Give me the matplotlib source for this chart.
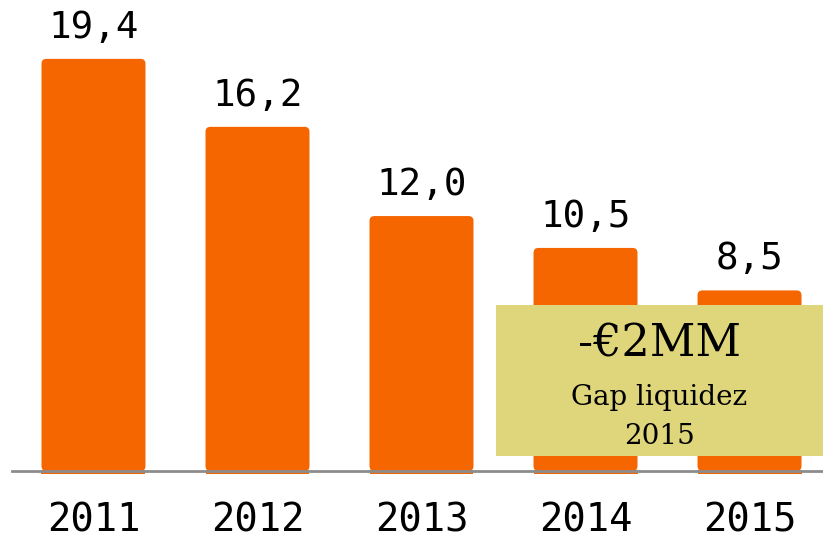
import matplotlib
matplotlib.use("Agg")
import matplotlib.pyplot as plt
from matplotlib.patches import Rectangle, FancyBboxPatch

# data
years = ["2011", "2012", "2013", "2014", "2015"]
values = [19.4, 16.2, 12.0, 10.5, 8.5]
value_labels = ["19,4", "16,2", "12,0", "10,5", "8,5"]
box_title = "-€2MM"
box_lines = ["Gap liquidez", "2015"]

orange = "#f56600"
khaki = "#dfd57a"
mono = "DejaVu Sans Mono"
serif = "DejaVu Serif"

fig = plt.figure(figsize=(8.23, 5.41), dpi=100)
ax = fig.add_axes([0, 0, 1, 1])
ax.set_xlim(-0.570, 4.448)
ax.set_ylim(-3.296, 22.17)
ax.axis("off")

w = 0.634
x = list(range(len(years)))
# little square stub under the baseline
ax.bar(x, 0.17, bottom=-0.14, width=w, color=orange, zorder=2)
# bars with rounded top corners
asp = 164 / 21.24
for i, v in enumerate(values):
    ax.add_patch(FancyBboxPatch((i - w / 2, 0), w, v,
                                boxstyle="round,pad=0,rounding_size=0.03",
                                mutation_aspect=asp, facecolor=orange,
                                edgecolor="none", zorder=2))

# baseline
ax.plot([-0.497, 4.448], [0, 0], color="#8c8c8c", lw=2, zorder=3)

for i, v in enumerate(values):
    ax.text(i, v + 1.46, value_labels[i], ha="center", va="center",
            fontsize=27, family=mono)
    ax.text(i, -2.33, years[i], ha="center", va="center",
            fontsize=28, family=mono)

# liquidity gap box
ax.add_patch(Rectangle((2.454, 0.706), 4.448 - 2.454, 7.82 - 0.706,
                       facecolor=khaki, edgecolor="none", zorder=4))
ax.text(3.451, 6.0, box_title, ha="center", va="center",
        fontsize=32, family=serif, zorder=5)
ax.text(3.451, 3.48, box_lines[0], ha="center", va="center",
        fontsize=20, family=serif, zorder=5)
ax.text(3.451, 1.60, box_lines[1], ha="center", va="center",
        fontsize=20, family=serif, zorder=5)

fig.savefig("out.png", dpi=100)
